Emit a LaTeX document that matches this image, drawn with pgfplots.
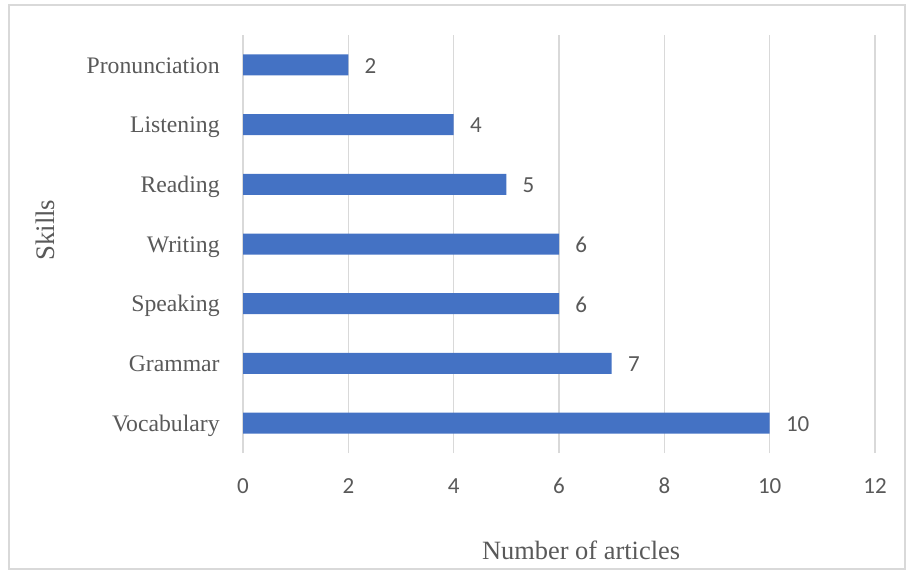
\documentclass[border=0pt]{standalone}
\usepackage{fontspec}
\setmainfont{Liberation Serif}
\newfontfamily\carlito{Carlito}
\usepackage{pgfplots}
\pgfplotsset{compat=1.18}
\definecolor{barblue}{HTML}{4472C4}
\definecolor{txtgray}{HTML}{595959}
\definecolor{gridgray}{HTML}{D9D9D9}
\begin{document}
\begin{tikzpicture}[x=1pt,y=1pt]
\useasboundingbox (0,0) rectangle (453,285);
\draw[gridgray, line width=0.75pt] (4.5,0.5) rectangle (452.6,282.5);
\begin{axis}[
  at={(121.5pt,58.5pt)}, anchor=south west,
  scale only axis, width=316pt, height=209pt,
  xbar, bar width=10.5pt,
  xmin=0, xmax=12, ymin=-0.5, ymax=6.5,
  xtick={0,2,...,12},
  ytick={0,...,6},
  yticklabels={Vocabulary,Grammar,Speaking,Writing,Reading,Listening,Pronunciation\ },
  axis line style={draw=none},
  major tick length=0pt,
  xmajorgrids, grid style={gridgray, line width=0.75pt},
  /pgf/number format/assume math mode=true,
  xticklabel style={font=\carlito\fontsize{11.5}{13}\selectfont, text=txtgray, anchor=center, yshift=-16.5pt},
  yticklabel style={font=\fontsize{11.85}{14}\selectfont, text=txtgray, anchor=east, inner sep=0pt, xshift=-11.5pt, yshift=-1.5pt, text height=1.5ex, text depth=0.35ex},
  xlabel={Number of articles},
  ylabel={Skills},
  xlabel style={font=\fontsize{13.2}{15}\selectfont, text=txtgray, at={(axis description cs:0.535,-0.232)}, anchor=center},
  ylabel style={font=\fontsize{13.4}{15}\selectfont, text=txtgray, at={(axis description cs:-0.313,0.533)}, anchor=center, rotate=0},
]
\addplot[fill=barblue, draw=none, nodes near coords,
  nodes near coords style={font=\carlito\fontsize{11.5}{13}\selectfont, text=txtgray, anchor=west, inner sep=0pt, xshift=8pt, yshift=-0.5pt}]
  coordinates {(10,0) (7,1) (6,2) (6,3) (5,4) (4,5) (2,6)};
\end{axis}
\end{tikzpicture}
\end{document}
